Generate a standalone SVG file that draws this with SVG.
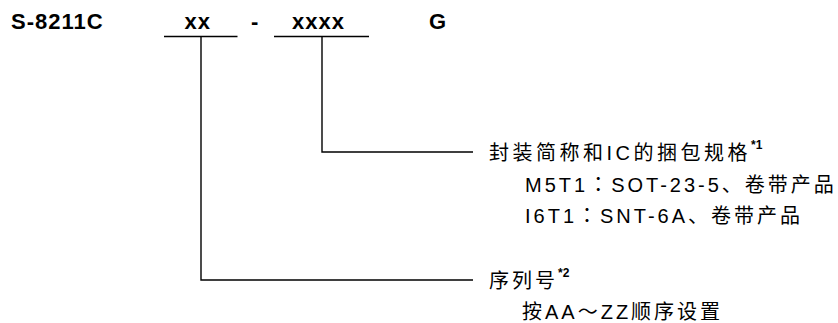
<svg xmlns="http://www.w3.org/2000/svg" width="838" height="323" viewBox="0 0 838 323">
<style>
.t{font-family:"Liberation Sans","Noto Sans CJK SC",sans-serif;font-size:20px;letter-spacing:3px;fill:#000}
.h{letter-spacing:3.5px}
.b{font-family:"Liberation Sans",sans-serif;font-weight:bold;font-size:22px;letter-spacing:1px;fill:#000}
.s{font-family:"Liberation Sans",sans-serif;font-weight:bold;font-size:12px;letter-spacing:0;fill:#000}
.c{font-family:"Noto Sans CJK JP",sans-serif}
.ln{stroke:#000;stroke-width:1.4;fill:none}
</style>
<rect width="838" height="323" fill="#fff"/>
<g id="part-number">
<text class="b" x="11" y="29">S-8211C</text>
<text class="b" x="184.5" y="29">xx</text>
<text class="b" x="251" y="29">-</text>
<text class="b" x="292" y="29">xxxx</text>
<text class="b" x="429" y="29">G</text>
</g>
<g id="connectors">
<path class="ln" d="M164 36.5H237.5M274 36.5H369"/>
<path class="ln" d="M201 36.5V280H473"/>
<path class="ln" d="M322 36.5V152H473"/>
</g>
<g id="package-spec">
<text class="t h" x="489" y="160">封装简称和IC的捆包规格<tspan class="s" dy="-11">*1</tspan></text>
<text class="t" x="525" y="192">M5T1<tspan class="c">：</tspan>SOT-23-5、卷带产品</text>
<text class="t" x="525" y="223">I6T1<tspan class="c">：</tspan>SNT-6A、卷带产品</text>
</g>
<g id="serial-number">
<text class="t" x="489" y="288">序列号<tspan class="s" dy="-11">*2</tspan></text>
<text class="t" x="522" y="319">按AA～ZZ顺序设置</text>
</g>
</svg>
